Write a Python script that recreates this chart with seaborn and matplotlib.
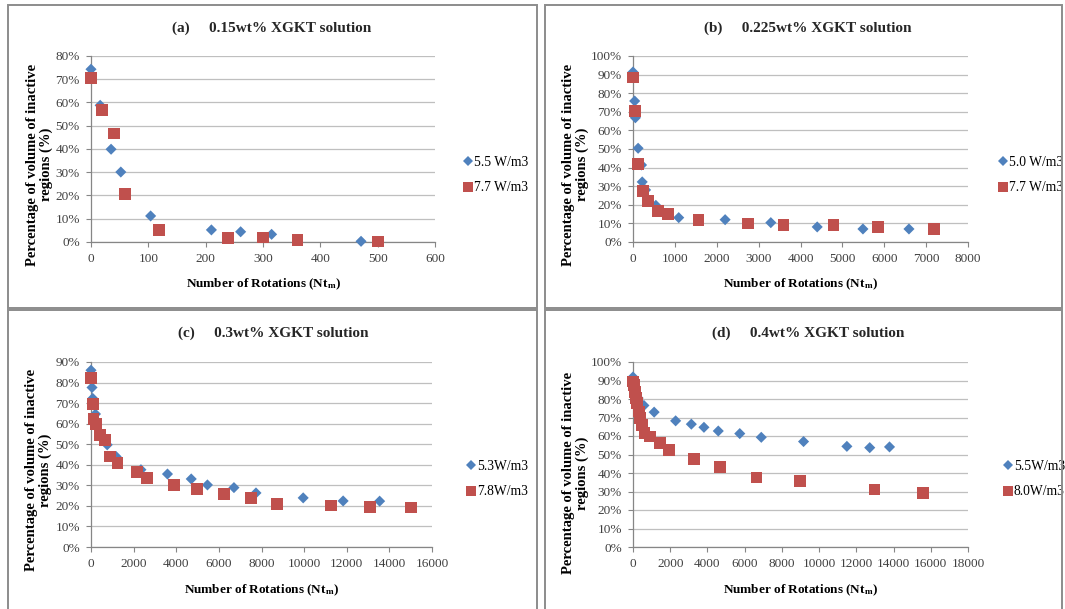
import numpy as np
import pandas as pd
import matplotlib
matplotlib.use("Agg")
import matplotlib.pyplot as plt
import seaborn as sns
from matplotlib.lines import Line2D
from matplotlib.patches import Rectangle
from matplotlib.ticker import MultipleLocator, FuncFormatter

# ---------------- data ----------------
a_titles = "(a)     0.15wt% XGKT solution"
a_labels = ["5.5 W/m3", "7.7 W/m3"]
a_x1 = [0, 16, 35, 52, 104, 210, 261, 315, 471]
a_y1 = [74.3, 58.8, 39.9, 30.1, 11.2, 5.2, 4.4, 3.3, 0.3]
a_x2 = [0, 19, 40, 59, 119, 239, 300, 360, 500]
a_y2 = [70.7, 56.8, 46.7, 20.8, 5.0, 1.6, 1.9, 0.7, 0.2]

b_titles = "(b)     0.225wt% XGKT solution"
b_labels = ["5.0 W/m3", "7.7 W/m3"]
b_x1 = [0, 40, 57, 122, 204, 220, 300, 546, 1092, 2200, 3291, 4399, 5491, 6590]
b_y1 = [91.4, 75.8, 66.8, 50.4, 41.4, 32.3, 28.0, 19.7, 13.1, 12.0, 10.4, 8.1, 7.0, 7.0]
b_x2 = [0, 57, 122, 244, 367, 603, 839, 1564, 2753, 3592, 4790, 5857, 7185]
b_y2 = [88.4, 70.4, 42.1, 27.4, 21.9, 16.7, 15.1, 11.8, 10.0, 9.3, 9.0, 7.9, 7.2]

c_titles = "(c)     0.3wt% XGKT solution"
c_labels = ["5.3W/m3", "7.8W/m3"]
c_x1 = [0, 48, 81, 210, 760, 1180, 2343, 3588, 4703, 5463, 6707, 7741, 9956, 11830, 13543]
c_y1 = [86.0, 77.6, 72.3, 64.7, 49.7, 44.0, 37.6, 35.5, 33.1, 30.2, 28.9, 26.3, 23.9, 22.4, 22.3]
c_x2 = [0, 81, 113, 242, 404, 646, 889, 1244, 2149, 2618, 3879, 4962, 6238, 7499, 8727,
        11249, 13107, 14998]
c_y2 = [82.1, 69.7, 62.1, 59.7, 54.5, 52.1, 44.0, 40.8, 36.3, 33.7, 30.3, 28.4, 25.8, 23.9,
        21.1, 20.2, 19.5, 19.2]

d_titles = "(d)     0.4wt% XGKT solution"
d_labels = ["5.5W/m3", "8.0W/m3"]
d_x1 = [0, 128, 275, 587, 1136, 2291, 3134, 3812, 4582, 5737, 6892, 9164, 11492, 12720, 13783]
d_y1 = [91.9, 85.9, 80.5, 76.5, 72.9, 68.2, 66.4, 64.7, 62.7, 61.3, 59.3, 57.0, 54.4, 53.7, 54.1]
d_x2 = [0, 37, 92, 165, 220, 312, 385, 495, 623, 916, 1448, 1925, 3262, 4692, 6635, 8963,
        12977, 15578]
d_y2 = [89.5, 87.7, 83.7, 80.5, 77.8, 73.2, 69.6, 66.0, 61.8, 59.7, 56.4, 52.3, 47.7, 43.4,
        37.6, 35.6, 31.1, 29.3]

x_label = r"Number of Rotations (Nt$_{\mathregular{m}}$)"
y_label = "Percentage of volume of inactive\nregions (%)"

# ---------------- style ----------------
sns.set_style("white")
plt.rcParams["font.family"] = ["Liberation Serif", "DejaVu Serif"]
plt.rcParams["mathtext.fontset"] = "custom"
plt.rcParams["mathtext.rm"] = "Liberation Serif:bold"
plt.rcParams["mathtext.it"] = "Liberation Serif:bold"
plt.rcParams["mathtext.bf"] = "Liberation Serif:bold"

BLUE = "#4F81BD"
RED = "#C0504D"
GRID = "#BFBFBF"
AXC = "#868686"
TXT = "#404040"

W, H = 1065, 609
fig = plt.figure(figsize=(W / 100, H / 100), dpi=100)


def rect_px(l, t, r, b):
    return [l / W, 1 - b / H, (r - l) / W, (b - t) / H]


panels = [
    dict(t=a_titles, lab=a_labels, x1=a_x1, y1=a_y1, x2=a_x2, y2=a_y2,
         rect=(91, 56, 435, 242), xmax=600, xstep=100, ymax=80,
         title_xy=(0.526, 1.15), ylab_xy=(-0.11, 0.415), xlab_y=-0.185,
         leg=(463, 175), box=(8, 5, 537, 308)),
    dict(t=b_titles, lab=b_labels, x1=b_x1, y1=b_y1, x2=b_x2, y2=b_y2,
         rect=(633, 56, 968, 242), xmax=8000, xstep=1000, ymax=100,
         title_xy=(0.522, 1.15), ylab_xy=(-0.131, 0.415), xlab_y=-0.185,
         leg=(998, 175), box=(545, 5, 1062, 308)),
    dict(t=c_titles, lab=c_labels, x1=c_x1, y1=c_y1, x2=c_x2, y2=c_y2,
         rect=(91, 362, 432, 547), xmax=16000, xstep=2000, ymax=90,
         title_xy=(0.534, 1.154), ylab_xy=(-0.114, 0.416), xlab_y=-0.19,
         leg=(466, 479), box=(8, 310, 537, 640)),
    dict(t=d_titles, lab=d_labels, x1=d_x1, y1=d_y1, x2=d_x2, y2=d_y2,
         rect=(633, 362, 968, 547), xmax=18000, xstep=2000, ymax=100,
         title_xy=(0.522, 1.154), ylab_xy=(-0.131, 0.40), xlab_y=-0.19,
         leg=(1003, 479), box=(545, 310, 1062, 640)),
]

for p in panels:
    # panel frame
    l, t, r, b = p["box"]
    fig.add_artist(Rectangle((l / W, 1 - b / H), (r - l) / W, (b - t) / H,
                             transform=fig.transFigure, fill=False,
                             edgecolor="#8C8C8C", lw=1.4, clip_on=False))

    ax = fig.add_axes(rect_px(*p["rect"]))
    s1, s2 = p["lab"]
    df = pd.DataFrame({
        "x": list(p["x1"]) + list(p["x2"]),
        "y": list(p["y1"]) + list(p["y2"]),
        "series": [s1] * len(p["x1"]) + [s2] * len(p["x2"]),
    })
    sns.scatterplot(data=df, x="x", y="y", hue="series", style="series", size="series",
                    palette={s1: BLUE, s2: RED}, markers={s1: "D", s2: "s"},
                    sizes={s1: 32, s2: 72}, linewidth=0, legend=False, ax=ax, zorder=3)
    for coll in ax.collections:
        coll.set_clip_on(False)

    ax.set_xlim(0, p["xmax"])
    ax.set_ylim(0, p["ymax"])
    ax.xaxis.set_major_locator(MultipleLocator(p["xstep"]))
    ax.yaxis.set_major_locator(MultipleLocator(10))
    ax.yaxis.set_major_formatter(FuncFormatter(lambda v, pos: f"{v:.0f}%"))
    ax.grid(False)
    ax.yaxis.grid(True, color=GRID, lw=0.9)
    ax.set_axisbelow(True)
    for sp in ["top", "right"]:
        ax.spines[sp].set_visible(False)
    for sp in ["left", "bottom"]:
        ax.spines[sp].set_color(AXC)
        ax.spines[sp].set_linewidth(0.9)
    ax.tick_params(axis="both", which="major", direction="out", length=3.5, width=0.8,
                   color=AXC, labelsize=9.5, labelcolor=TXT, pad=4.5,
                   left=True, bottom=True)

    ax.set_xlabel(x_label, fontsize=9.5, fontweight="bold", color="black")
    ax.xaxis.set_label_coords(0.5, p["xlab_y"])
    ax.set_ylabel(y_label, fontsize=10.5, fontweight="bold", color="black",
                  linespacing=1.05)
    ax.yaxis.set_label_coords(*p["ylab_xy"])

    ax.text(p["title_xy"][0], p["title_xy"][1], p["t"], transform=ax.transAxes,
            ha="center", va="center", fontsize=11, fontweight="bold")

    handles = [
        Line2D([], [], ls="none", marker="D", markersize=5, color=BLUE, mew=0),
        Line2D([], [], ls="none", marker="s", markersize=7.5, color=RED, mew=0),
    ]
    lx, ly = p["leg"]
    ax.legend(handles, [s1, s2], loc="center left",
              bbox_to_anchor=(lx / W, 1 - ly / H), bbox_transform=fig.transFigure,
              frameon=False, fontsize=9.8, handlelength=0.7, handletextpad=0.1,
              labelspacing=0.95, borderpad=0, borderaxespad=0, labelcolor="black")

fig.savefig("out.png", dpi=100)
